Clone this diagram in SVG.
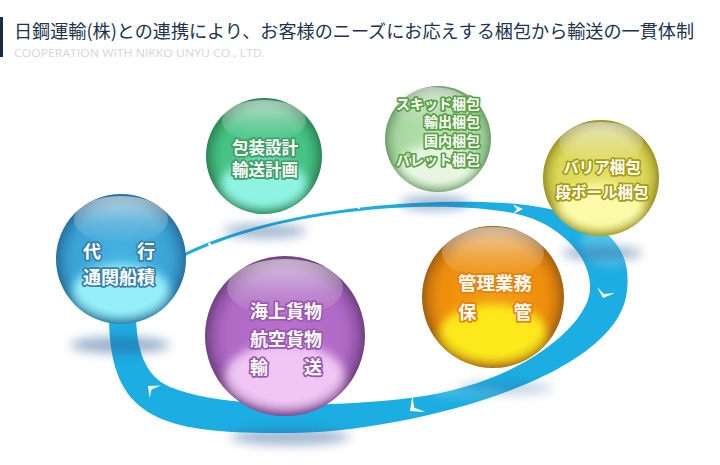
<svg xmlns="http://www.w3.org/2000/svg" width="720" height="465" viewBox="0 0 720 465">
<style>
.title{font-family:"Noto Sans CJK JP","Noto Sans",sans-serif;font-size:18px;fill:#22324c}
.sub{font-family:"Open Sans","Liberation Sans",sans-serif;font-size:11px;fill:#d6d6d6}
.lbl{font-family:"Noto Sans CJK JP","Noto Sans",sans-serif;font-weight:700;fill:#ffffff;stroke-width:3.5px;stroke-linejoin:round;paint-order:stroke fill}
.chev{fill:#ffffff}
.shd{fill:#2d5f95;filter:url(#sh)}
</style>
<defs>
<filter id="bl5" x="-40%" y="-40%" width="180%" height="180%"><feGaussianBlur stdDeviation="5"/></filter>
<filter id="sh" x="-50%" y="-150%" width="200%" height="400%"><feGaussianBlur stdDeviation="5.5"/></filter>
<linearGradient id="hl" x1="0" y1="0" x2="0" y2="1">
<stop offset="0" stop-color="#f0f0f0" stop-opacity=".7"/>
<stop offset=".55" stop-color="#f0f0f0" stop-opacity=".25"/>
<stop offset="1" stop-color="#f0f0f0" stop-opacity="0"/>
</linearGradient>
<radialGradient id="rim" cx=".5" cy=".5" r=".5">
<stop offset="0" stop-color="#000" stop-opacity="0"/>
<stop offset=".8" stop-color="#000" stop-opacity="0"/>
<stop offset="1" stop-color="#000" stop-opacity=".13"/>
</radialGradient>
<radialGradient id="gBlue" cx=".5" cy=".5" r=".5"><stop offset="0" stop-color="#48b4e2"/><stop offset=".72" stop-color="#3aa4d6"/><stop offset=".9" stop-color="#3494c8"/><stop offset="1" stop-color="#2e82b4"/></radialGradient>
<radialGradient id="gGreen" cx=".5" cy=".5" r=".5"><stop offset="0" stop-color="#52ca8e"/><stop offset=".72" stop-color="#46c283"/><stop offset=".9" stop-color="#3cae74"/><stop offset="1" stop-color="#329a62"/></radialGradient>
<radialGradient id="gLg" cx=".5" cy=".5" r=".5"><stop offset="0" stop-color="#b8e2b2"/><stop offset=".72" stop-color="#a8d8a2"/><stop offset=".9" stop-color="#98cc94"/><stop offset="1" stop-color="#80b67c"/></radialGradient>
<radialGradient id="gYel" cx=".5" cy=".5" r=".5"><stop offset="0" stop-color="#e4e06a"/><stop offset=".72" stop-color="#dcd85a"/><stop offset=".9" stop-color="#ccc546"/><stop offset="1" stop-color="#b4aa28"/></radialGradient>
<radialGradient id="gOr" cx=".5" cy=".5" r=".5"><stop offset="0" stop-color="#f39a14"/><stop offset=".72" stop-color="#ee8f0c"/><stop offset=".9" stop-color="#dc800e"/><stop offset="1" stop-color="#b87014"/></radialGradient>
<radialGradient id="gPu" cx=".5" cy=".5" r=".5"><stop offset="0" stop-color="#b872cc"/><stop offset=".72" stop-color="#b06ac6"/><stop offset=".9" stop-color="#9e5cb4"/><stop offset="1" stop-color="#804a94"/></radialGradient>
<clipPath id="cBlue"><circle cx="121" cy="259" r="65"/></clipPath>
<clipPath id="cGreen"><circle cx="264" cy="156" r="58"/></clipPath>
<clipPath id="cLg"><circle cx="438" cy="139" r="53"/></clipPath>
<clipPath id="cYel"><circle cx="601" cy="178" r="58"/></clipPath>
<clipPath id="cOr"><circle cx="493" cy="297" r="71"/></clipPath>
<clipPath id="cPu"><circle cx="285" cy="336" r="80"/></clipPath>
<clipPath id="cBand"><path d="M109 312 C108 420 160 434 290 433 C400 433 620 380 627 290 C633 240 595 212 517 204 C457 198 290 200 178 256 L178 259.5 C290 202.5 457 199.5 517 214 C557 223 592 255 590 290 C588 325 520 385 410 398 C330 408 220 408 170 387 C145 376 136 350 136 312 Z"/></clipPath>
</defs>

<rect x="0" y="0" width="720" height="465" fill="#ffffff"/>

<g id="header">
<rect x="0" y="17" width="3" height="40" fill="#1b2b45"/>
<text class="title" x="14" y="38" textLength="680" lengthAdjust="spacingAndGlyphs">日鋼運輸(株)との連携により、お客様のニーズにお応えする梱包から輸送の一貫体制</text>
<text class="sub" x="14" y="57" textLength="251" lengthAdjust="spacingAndGlyphs">COOPERATION  WITH  NIKKO UNYU CO., LTD.</text>
</g>

<g id="connectors">
<path d="M109 312 C108 420 160 434 290 433 C400 433 620 380 627 290 C633 240 595 212 517 204 C457 198 290 200 178 256 L178 259.5 C290 202.5 457 199.5 517 214 C557 223 592 255 590 290 C588 325 520 385 410 398 C330 408 220 408 170 387 C145 376 136 350 136 312 Z" fill="#1cade2"/>
<g clip-path="url(#cBand)">
<ellipse cx="610" cy="245" rx="30" ry="22" fill="#7ad6f2" opacity=".55" filter="url(#bl5)"/>
<ellipse cx="470" cy="392" rx="40" ry="6" fill="#7ad6f2" opacity=".45" filter="url(#bl5)"/>
</g>
<path class="chev" d="M148 386 L161 385.5 L151.5 389.5 L149.5 398 Z"/>
<path class="chev" d="M410 411 L412.5 395 L414 407.5 L425 412 Z"/>
<path class="chev" d="M603 298 L597 287 L604 294 L615 293 Z"/>
<path class="chev" d="M523 209 L513 204.5 L517 209.5 L513 214 Z"/>
<line x1="209" y1="243" x2="212" y2="250" stroke="#fff" stroke-width="2.5"/>
<line x1="357" y1="201" x2="359" y2="209" stroke="#fff" stroke-width="2"/>
</g>

<g id="shadows">
<ellipse class="shd" cx="120" cy="345" rx="50" ry="8" opacity=".5"/>
<ellipse class="shd" cx="265" cy="231" rx="42" ry="7" opacity=".45"/>
<ellipse class="shd" cx="435" cy="203" rx="35" ry="7" opacity=".45"/>
<ellipse class="shd" cx="602" cy="253" rx="40" ry="7" opacity=".45"/>
<ellipse class="shd" cx="505" cy="388" rx="48" ry="6" opacity=".3"/>
<ellipse class="shd" cx="290" cy="437" rx="60" ry="8" opacity=".45"/>
</g>

<g id="node-tsukan">
<circle cx="121" cy="259" r="65" fill="url(#gBlue)"/>
<ellipse cx="121" cy="292" rx="49" ry="28" fill="#95eff8" filter="url(#bl5)" clip-path="url(#cBlue)"/>
<ellipse cx="121" cy="220" rx="47" ry="24" fill="url(#hl)"/>
<circle cx="121" cy="259" r="65" fill="url(#rim)"/>
<text class="lbl" x="119" y="258" text-anchor="middle" font-size="18" stroke="#3a7fa8">代　　行</text>
<text class="lbl" x="119" y="284" text-anchor="middle" font-size="18" stroke="#3a7fa8">通関船積</text>
</g>

<g id="node-housou">
<circle cx="264" cy="156" r="58" fill="url(#gGreen)"/>
<ellipse cx="264" cy="185" rx="44" ry="25" fill="#8ff2e2" filter="url(#bl5)" clip-path="url(#cGreen)"/>
<ellipse cx="264" cy="121" rx="42" ry="21" fill="url(#hl)"/>
<circle cx="264" cy="156" r="58" fill="url(#rim)"/>
<text class="lbl" x="265" y="153.5" text-anchor="middle" font-size="16.5" stroke="#3f9e66">包装設計</text>
<text class="lbl" x="265" y="176" text-anchor="middle" font-size="16.5" stroke="#3f9e66">輸送計画</text>
</g>

<g id="node-konpou">
<circle cx="438" cy="139" r="53" fill="url(#gLg)"/>
<ellipse cx="438" cy="166" rx="40" ry="22" fill="#e6f6e0" filter="url(#bl5)" clip-path="url(#cLg)"/>
<ellipse cx="432" cy="107" rx="38" ry="20" fill="url(#hl)"/>
<circle cx="438" cy="139" r="53" fill="url(#rim)"/>
<text class="lbl" x="480" y="108.5" text-anchor="end" font-size="14" stroke="#5aa044">スキッド梱包</text>
<text class="lbl" x="480" y="127" text-anchor="end" font-size="14" stroke="#5aa044">輸出梱包</text>
<text class="lbl" x="480" y="145.5" text-anchor="end" font-size="14" stroke="#5aa044">国内梱包</text>
<text class="lbl" x="480" y="164.5" text-anchor="end" font-size="14" stroke="#5aa044">パレット梱包</text>
</g>

<g id="node-barrier">
<circle cx="601" cy="178" r="58" fill="url(#gYel)"/>
<ellipse cx="601" cy="207" rx="44" ry="24" fill="#fbfaa8" filter="url(#bl5)" clip-path="url(#cYel)"/>
<ellipse cx="601" cy="143" rx="42" ry="21" fill="url(#hl)"/>
<circle cx="601" cy="178" r="58" fill="url(#rim)"/>
<text class="lbl" x="602" y="173" text-anchor="middle" font-size="15.5" stroke="#a89e14">バリア梱包</text>
<text class="lbl" x="602" y="198" text-anchor="middle" font-size="15.5" stroke="#a89e14">段ボール梱包</text>
</g>

<g id="node-kanri">
<circle cx="493" cy="297" r="71" fill="url(#gOr)"/>
<ellipse cx="493" cy="334" rx="54" ry="30" fill="#fde81e" filter="url(#bl5)" clip-path="url(#cOr)"/>
<ellipse cx="493" cy="253" rx="51" ry="26" fill="url(#hl)"/>
<circle cx="493" cy="297" r="71" fill="url(#rim)"/>
<text class="lbl" x="495" y="290" text-anchor="middle" font-size="18.5" stroke="#e8820c">管理業務</text>
<text class="lbl" x="495" y="319" text-anchor="middle" font-size="18.5" stroke="#e8820c">保　　管</text>
</g>

<g id="node-yusou">
<circle cx="285" cy="336" r="80" fill="url(#gPu)"/>
<ellipse cx="285" cy="377" rx="60" ry="34" fill="#f0c6f4" filter="url(#bl5)" clip-path="url(#cPu)"/>
<ellipse cx="285" cy="288" rx="58" ry="29" fill="url(#hl)"/>
<circle cx="285" cy="336" r="80" fill="url(#rim)"/>
<text class="lbl" x="286" y="318" text-anchor="middle" font-size="18" stroke="#9a58b0">海上貨物</text>
<text class="lbl" x="286" y="346" text-anchor="middle" font-size="18" stroke="#9a58b0">航空貨物</text>
<text class="lbl" x="286" y="374" text-anchor="middle" font-size="18" stroke="#9a58b0">輸　　送</text>
</g>
</svg>
